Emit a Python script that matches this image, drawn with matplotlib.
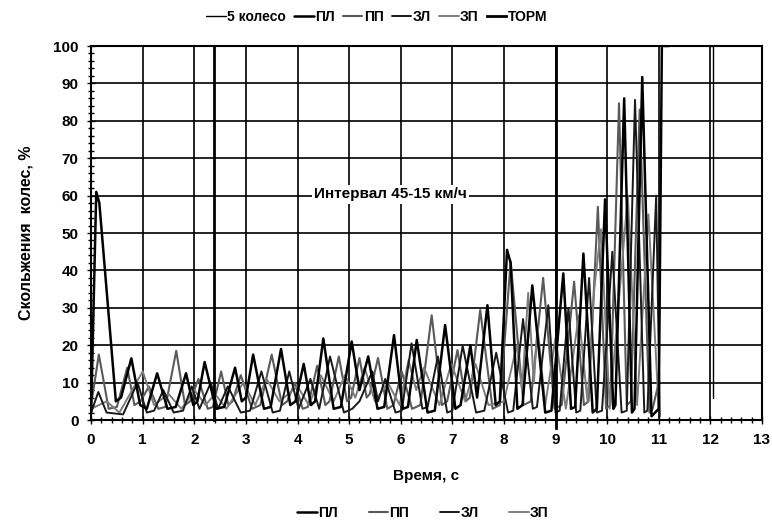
import numpy as np
import matplotlib
matplotlib.use('Agg')
from matplotlib import pyplot as plt
from matplotlib.ticker import MultipleLocator

plt.rcParams['font.family'] = ['Liberation Sans', 'DejaVu Sans']
plt.rcParams['font.weight'] = 'bold'
plt.rcParams['axes.labelweight'] = 'bold'

# wheel slip traces (time, s / slip, %)
pl_t = [0.00, 0.10, 0.16, 0.48, 0.58, 0.78, 0.95, 1.08, 1.28, 1.48, 1.64, 1.84, 1.98, 2.06, 2.20,
        2.42, 2.58, 2.79, 2.92, 3.00, 3.14, 3.35, 3.48, 3.68, 3.86, 3.96, 4.12, 4.26, 4.34, 4.50,
        4.70, 4.84, 5.05, 5.20, 5.37, 5.55, 5.68, 5.87, 6.04, 6.14, 6.31, 6.52, 6.66, 6.86, 7.06,
        7.16, 7.35, 7.48, 7.68, 7.84, 7.92, 8.06, 8.13, 8.26, 8.36, 8.55, 8.80, 8.92, 9.15, 9.30,
        9.38, 9.54, 9.72, 9.80, 9.96, 10.12, 10.16, 10.33, 10.48, 10.53, 10.68, 10.86, 11.00, 11.06,
        11.20]
pl_v = [2, 61, 58, 5, 6, 16.5, 4, 3, 12.5, 3, 3.5, 12.5, 4, 5, 15.5,
        3, 3.5, 14, 5, 6, 17.5, 3, 3.5, 19, 4, 5, 15, 4, 5, 21.8,
        3, 3.5, 21, 8, 17, 3, 3.5, 22.7, 3, 3.5, 21.4, 2, 2.5, 25.4, 3,
        4, 20, 6, 30.7, 4, 5, 45.5, 42, 3, 4, 36, 2, 2.5, 39.2, 3,
        3.5, 44.5, 2, 3, 59, 3, 4, 86, 2, 3, 91.7, 1, 3, 100,
        100]

pp_t = [0.00, 0.15, 0.34, 0.50, 0.70, 0.84, 0.96, 1.12, 1.30, 1.44, 1.65, 1.82, 1.92, 2.08, 2.26,
        2.36, 2.52, 2.66, 2.74, 2.90, 3.12, 3.28, 3.50, 3.70, 3.80, 3.95, 4.10, 4.20, 4.38, 4.54,
        4.62, 4.80, 4.96, 5.04, 5.20, 5.34, 5.40, 5.56, 5.74, 5.86, 6.02, 6.22, 6.38, 6.60, 6.80,
        6.90, 7.10, 7.26, 7.34, 7.54, 7.78, 7.92, 8.13, 8.38, 8.52, 8.76, 8.98, 9.12, 9.36, 9.55,
        9.64, 9.82, 9.98, 10.06, 10.23, 10.38, 10.46, 10.63, 10.82, 10.88, 11.00]
pp_v = [4, 17.5, 3, 3.5, 14, 4, 5, 9, 3, 3.5, 18.5, 4, 5, 11, 3,
        3.5, 13, 4, 5, 12, 3, 4, 17.5, 4, 5, 10, 3, 3.5, 14.5, 4,
        5, 17, 5, 6, 16.6, 6, 7, 16.6, 3, 4, 13, 3, 4, 28, 4,
        5, 18.7, 5, 6, 29.4, 3, 4, 42.4, 4, 5, 38, 3, 4, 37, 4,
        5, 57, 3, 4, 84.7, 4, 5, 83, 2, 3, 10]

zl_t = [0.00, 0.14, 0.30, 0.62, 0.90, 1.08, 1.22, 1.40, 1.60, 1.78, 1.95, 2.10, 2.32, 2.46, 2.65,
        2.90, 3.08, 3.30, 3.52, 3.66, 3.84, 4.02, 4.25, 4.42, 4.63, 4.90, 5.06, 5.20, 5.45, 5.56,
        5.70, 5.90, 6.02, 6.21, 6.42, 6.52, 6.72, 6.90, 7.00, 7.20, 7.46, 7.62, 7.85, 8.08, 8.18,
        8.37, 8.56, 8.64, 8.86, 9.00, 9.08, 9.25, 9.40, 9.48, 9.65, 9.80, 9.90, 10.10, 10.28, 10.38,
        10.54, 10.72, 10.78, 10.95, 11.02]
zl_v = [2, 7.5, 2, 1.5, 10, 2, 2.5, 8, 2, 2.5, 9, 3, 10, 3, 9,
        2, 2.5, 13, 2, 2.5, 13, 3, 11, 3, 17, 2, 3, 5, 13, 5,
        11, 2, 2.5, 20.5, 3, 3.5, 17, 2, 2.5, 19.9, 2, 2.5, 18, 2, 2.5,
        27, 3, 3.5, 30.7, 2, 2.5, 30, 2, 2.5, 38, 2, 2.5, 45, 2, 2.5,
        85.6, 2, 2.5, 60, 1]

zp_t = [0.00, 0.30, 0.55, 1.00, 1.22, 1.50, 1.75, 2.00, 2.22, 2.40, 2.62, 2.95, 3.18, 3.40, 3.65,
        4.00, 4.22, 4.45, 4.70, 4.92, 5.12, 5.30, 5.50, 5.75, 5.98, 6.15, 6.30, 6.45, 6.75, 6.98,
        7.25, 7.45, 7.70, 8.00, 8.25, 8.35, 8.47, 8.58, 8.65, 8.80, 9.00, 9.20, 9.45, 9.62, 9.75,
        9.88, 10.05, 10.40, 10.58, 10.80, 11.00]
zp_v = [3, 5, 2, 13, 4, 7, 3, 8, 4, 7, 3, 10, 4, 11, 5,
        9, 4, 12, 5, 12, 6, 14, 5, 10, 4, 16, 8, 14, 4, 15,
        5, 15, 4, 5, 20, 8, 34, 10, 25, 4, 22, 3, 28, 5, 35,
        51, 3, 60, 4, 55, 3]

wheel5_t = [12.00, 12.05, 12.05]
wheel5_v = [100, 100, 6]

torm_t = [2.38, 2.38, np.nan, 9.00, 9.00]
torm_v = [0, 100, np.nan, -2, 100]

fig = plt.figure(figsize=(7.72, 5.30), dpi=100)
ax = fig.add_axes([0.118, 0.2075, 0.869, 0.7057])

kw = dict(solid_joinstyle='round', solid_capstyle='round')
h5, = ax.plot(wheel5_t, wheel5_v, color='black', lw=1.0, label='5 колесо', **kw)
h2, = ax.plot(pp_t, pp_v, color='#5a5a5a', lw=1.5, label='ПП', **kw)
h4, = ax.plot(zp_t, zp_v, color='#7d7d7d', lw=1.4, label='ЗП', **kw)
h3, = ax.plot(zl_t, zl_v, color='#1a1a1a', lw=1.4, label='ЗЛ', **kw)
h1, = ax.plot(pl_t, pl_v, color='black', lw=1.8, label='ПЛ', **kw)
ht, = ax.plot(torm_t, torm_v, color='black', lw=2.0, label='ТОРМ', clip_on=False)

ax.set_xlim(0, 13)
ax.set_ylim(0, 100)
ax.xaxis.set_major_locator(MultipleLocator(1))
ax.xaxis.set_minor_locator(MultipleLocator(0.2))
ax.yaxis.set_major_locator(MultipleLocator(10))
ax.yaxis.set_minor_locator(MultipleLocator(2))
ax.tick_params(which='both', direction='inout', color='black', width=1.0)
ax.tick_params(which='major', length=6, labelsize=11, pad=6)
ax.tick_params(which='minor', length=4)
ax.grid(True, which='major', color='black', lw=1.2)
for s in ax.spines.values():
    s.set_linewidth(1.5)

ax.text(5.8, 60.3, 'Интервал 45-15 км/ч', ha='center', va='center', fontsize=11,
        bbox=dict(facecolor='white', edgecolor='none', pad=1.5), zorder=5)

ax.set_xlabel('Время, с', fontsize=11, fontweight='bold', labelpad=16)
ax.set_ylabel('Скольжения  колес, %', fontsize=11.5, fontweight='bold', labelpad=14)

legend_kw = dict(frameon=False, fontsize=10, handlelength=1.4, handletextpad=0.1)
fig.legend(handles=[h5, h1, h2, h3, h4, ht], loc='upper center', bbox_to_anchor=(0.488, 1.005),
           ncol=6, columnspacing=0.6, **legend_kw)
fig.legend(handles=[h1, h2, h3, h4], loc='lower center', bbox_to_anchor=(0.548, -0.005),
           ncol=4, columnspacing=2.2, **legend_kw)

plt.savefig('out.png', dpi=100)
